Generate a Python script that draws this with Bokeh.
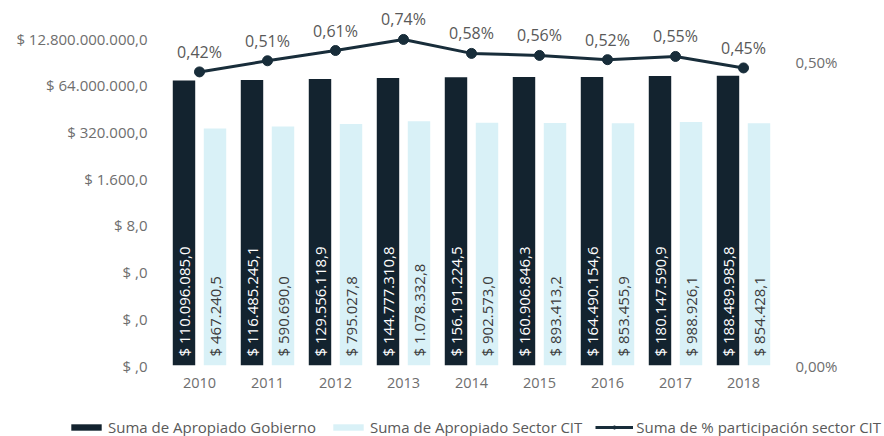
import math
from bokeh.plotting import figure
from bokeh.layouts import column
from bokeh.models import (FactorRange, Range1d, LogScale, LogAxis, FixedTicker,
                          CustomJSTickFormatter, ColumnDataSource, Legend, LegendItem)
from bokeh.transform import dodge
from bokeh.core.properties import value
from bokeh.embed import file_html
from bokeh.resources import INLINE

# ---- data ----
years = ["2010", "2011", "2012", "2013", "2014", "2015", "2016", "2017", "2018"]
gobierno = [110096085.0, 116485245.1, 129556118.9, 144777310.8, 156191224.5,
            160906846.3, 164490154.6, 180147590.9, 188489985.8]
sector_cit = [467240.5, 590690.0, 795027.8, 1078332.8, 902573.0,
              893413.2, 853455.9, 988926.1, 854428.1]
participacion = [0.42, 0.51, 0.61, 0.74, 0.58, 0.56, 0.52, 0.55, 0.45]
left_ticks = [0.000001, 0.0002, 0.04, 8, 1600, 320000, 64000000, 12800000000]
right_ticks = [0.0025, 0.5]
series_names = ["Suma de Apropiado Gobierno", "Suma de Apropiado Sector CIT",
                "Suma de % participación sector CIT"]

FONT = "Open Sans"
DARK = "#13232f"
LIGHT = "#d9f1f7"
LINE = "#182d3a"
AXIS_TXT = "#6e6e6e"
LBL_TXT = "#595959"

# ---- layout (pixels) ----
W = 884
H_MAIN, H_LEG = 418, 18
FRAME_L, FRAME_W = 165, 612
AXIS_TOP, AXIS_BOT = 38, 365      # where the top / bottom left ticks sit
FRAME_BOT = AXIS_BOT
Y_MIN, Y_TICK_TOP = left_ticks[0], left_ticks[-1]
ppl = (AXIS_BOT - AXIS_TOP) / math.log(Y_TICK_TOP / Y_MIN)   # px per ln unit, left
Y_MAX = Y_TICK_TOP * math.exp(AXIS_TOP / ppl)                 # extend frame to top
R_PPL = 57.3                                                  # px per ln unit, right
R_MIN = right_ticks[0]
R_MAX = R_MIN * math.exp(FRAME_BOT / R_PPL)


def money(v):
    s = f"{v:,.1f}".replace(",", "X").replace(".", ",").replace("X", ".")
    return "$ " + s


def pct(v):
    return f"{v:.2f}".replace(".", ",") + "%"


src = ColumnDataSource(dict(
    year=years,
    gob=gobierno,
    cit=sector_cit,
    pct=participacion,
    base=[Y_MIN] * len(years),
    gob_lbl=[money(v) for v in gobierno],
    cit_lbl=[money(v) for v in sector_cit],
    pct_lbl=[pct(v) for v in participacion],
))

p = figure(x_range=FactorRange(*years), y_axis_type="log",
           y_range=Range1d(Y_MIN, Y_MAX),
           width=W, height=H_MAIN, output_backend="svg", toolbar_location=None,
           min_border_left=FRAME_L, min_border_right=W - FRAME_L - FRAME_W,
           min_border_top=0, min_border_bottom=H_MAIN - FRAME_BOT)
p.outline_line_color = None
p.xgrid.visible = False
p.ygrid.visible = False
p.background_fill_color = "white"
p.border_fill_color = "white"

p.extra_y_ranges = {"pct": Range1d(R_MIN, R_MAX)}
p.extra_y_scales = {"pct": LogScale()}

# bars
off = 0.228
bw = 0.33
bar_kw = dict(width=bw, source=src, line_color=None, bottom="base")
p.vbar(x=dodge("year", -off, range=p.x_range), top="gob", fill_color=DARK, **bar_kw)
p.vbar(x=dodge("year", off, range=p.x_range), top="cit", fill_color=LIGHT, **bar_kw)

# bar labels (rotated)
txt_kw = dict(source=src, y="base", angle=math.pi / 2, text_align="left",
              text_baseline="middle", y_offset=-9, text_font=value(FONT),
              text_font_size="15px")
p.text(x=dodge("year", -off, range=p.x_range), text="gob_lbl", text_color="white", **txt_kw)
p.text(x=dodge("year", off, range=p.x_range), text="cit_lbl", text_color="#3c3c3c", **txt_kw)

# line
p.line(x="year", y="pct", source=src, y_range_name="pct", line_color=LINE, line_width=3)
p.scatter(x="year", y="pct", source=src, y_range_name="pct", marker="circle",
          size=10, fill_color=LINE, line_color=LINE)
p.text(x="year", y="pct", text="pct_lbl", source=src, y_range_name="pct",
       text_align="center", text_baseline="middle", y_offset=-20,
       text_color=LBL_TXT, text_font=value(FONT), text_font_size="16px")

# axes
money_js = r"""
const v = Math.round(tick * 10) / 10;
if (v < 0.05) { return "$ ,0"; }
const parts = v.toFixed(1).split(".");
const ip = parts[0].replace(/\B(?=(\d{3})+(?!\d))/g, ".");
return "$ " + ip + "," + parts[1];
"""
yax = p.yaxis[0]
yax.ticker = FixedTicker(ticks=left_ticks)
yax.formatter = CustomJSTickFormatter(code=money_js)

rax = LogAxis(y_range_name="pct", ticker=FixedTicker(ticks=right_ticks),
              formatter=CustomJSTickFormatter(
                  code="return tick.toFixed(2).replace('.', ',') + '%';"))
p.add_layout(rax, "right")

for ax in [p.xaxis[0], yax, rax]:
    ax.axis_line_color = None
    ax.major_tick_line_color = None
    ax.minor_tick_line_color = None
    ax.major_tick_out = 0
    ax.major_tick_in = 0
    ax.major_label_text_color = AXIS_TXT
    ax.major_label_text_font = FONT
    ax.major_label_text_font_size = "15px"
p.xaxis[0].major_label_text_font_size = "14.5px"
yax.major_label_standoff = 18
rax.major_label_standoff = 18
p.xaxis[0].major_label_standoff = 12

# ---- legend strip (own small figure so nothing is clipped) ----
lf = figure(width=W, height=H_LEG, output_backend="svg", toolbar_location=None,
            x_range=Range1d(0, 1), y_range=Range1d(0, 1),
            x_axis_location=None, y_axis_location=None,
            min_border=0, min_border_left=0, min_border_right=0,
            min_border_top=0, min_border_bottom=0)
lf.outline_line_color = None
lf.xgrid.visible = False
lf.ygrid.visible = False
for fig in (p, lf):
    try:
        fig.frame_align = False
    except AttributeError:
        pass

# off-screen dummy point so the legend swatches have something to draw from
dummy = ColumnDataSource(dict(x=[-10.0], y=[-10.0], t=[-10.0]))
r1 = lf.vbar(x="x", top="t", width=0.1, source=dummy, fill_color=DARK, line_color=None)
r2 = lf.vbar(x="x", top="t", width=0.1, source=dummy, fill_color=LIGHT, line_color=None)
r3 = lf.line(x="x", y="y", source=dummy, line_color=LINE, line_width=3)
r4 = lf.scatter(x="x", y="y", source=dummy, marker="circle", size=10,
                fill_color=LINE, line_color=LINE)
legend = Legend(items=[
    LegendItem(label=series_names[0], renderers=[r1]),
    LegendItem(label=series_names[1], renderers=[r2]),
    LegendItem(label=series_names[2], renderers=[r3, r4]),
], orientation="horizontal", location=(67, -1), glyph_width=38,
    glyph_height=8, label_standoff=3, spacing=13, padding=0, margin=0,
    border_line_color=None, background_fill_alpha=0, label_text_font=FONT,
    label_text_font_size="15px", label_text_color=LBL_TXT)
lf.add_layout(legend)

open("out.html", "w").write(file_html(column(p, lf), INLINE))
